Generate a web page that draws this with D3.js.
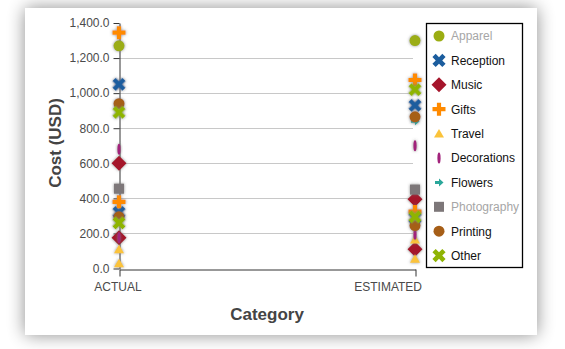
<!DOCTYPE html>
<html>
<head>
<meta charset="utf-8">
<script src="https://cdn.jsdelivr.net/npm/d3@7"></script>
<style>
  html, body { margin: 0; padding: 0; background: #fff; }
  svg { display: block; font-family: Arial, "Liberation Sans", sans-serif; }
</style>
</head>
<body>
<svg id="chart" width="565" height="349"></svg>
<script>
// Budget categories and cost values (USD) for actual vs. estimated spend
const categories = ["ACTUAL", "ESTIMATED"];
const seriesNames = ["Apparel", "Reception", "Music", "Gifts", "Travel",
  "Decorations", "Flowers", "Photography", "Printing", "Other"];
const yTicks = [0, 200, 400, 600, 800, 1000, 1200, 1400];

const apparelActual = [1270],        apparelEstimated = [1300];
const receptionActual = [1050, 320], receptionEstimated = [930, 288];
const musicActual = [600, 175],      musicEstimated = [395, 110];
const giftsActual = [1345, 380],     giftsEstimated = [1075, 325];
const travelActual = [110, 30],      travelEstimated = [165, 55];
const decorationsActual = [680, 175], decorationsEstimated = [700, 195];
const flowersActual = [],            flowersEstimated = [840];
const photographyActual = [455],     photographyEstimated = [450];
const printingActual = [940, 295],   printingEstimated = [865, 245];
const otherActual = [890, 260],      otherEstimated = [1020, 295];

const seriesValues = [
  [apparelActual, apparelEstimated],
  [receptionActual, receptionEstimated],
  [musicActual, musicEstimated],
  [giftsActual, giftsEstimated],
  [travelActual, travelEstimated],
  [decorationsActual, decorationsEstimated],
  [flowersActual, flowersEstimated],
  [photographyActual, photographyEstimated],
  [printingActual, printingEstimated],
  [otherActual, otherEstimated]
];
const hiddenInLegend = ["Apparel", "Photography"];

const colors = {
  Apparel: "#9bad12", Reception: "#1b5d9e", Music: "#a5152b", Gifts: "#ff8a00",
  Travel: "#fbc33a", Decorations: "#a2237b", Flowers: "#2aa79a",
  Photography: "#7d7779", Printing: "#a65e17", Other: "#8fb404"
};

// Marker shapes, centred on 0,0
function plusPath(L, t) {
  const a = L / 2, b = t / 2;
  return `M${-b},${-a}H${b}V${-b}H${a}V${b}H${b}V${a}H${-b}V${b}H${-a}V${-b}H${-b}Z`;
}
const shapes = {
  Apparel: "M-5.5,0a5.5,5.5 0 1,0 11,0a5.5,5.5 0 1,0 -11,0Z",
  Reception: plusPath(14, 4.6),
  Music: "M0,-7.5L7.5,0L0,7.5L-7.5,0Z",
  Gifts: plusPath(13, 4.2),
  Travel: "M0,-4.5L5,4L-5,4Z",
  Decorations: "M-1.6,0a1.6,5.5 0 1,0 3.2,0a1.6,5.5 0 1,0 -3.2,0Z",
  Flowers: "M-4,-1.5H0V-4L4.5,0L0,4V1.5H-4Z",
  Photography: "M-5,-5H5V5H-5Z",
  Printing: "M-5.5,0a5.5,5.5 0 1,0 11,0a5.5,5.5 0 1,0 -11,0Z",
  Other: plusPath(14, 4.6)
};
const rotations = { Reception: 45, Other: 45 };

const svg = d3.select("#chart");
const defs = svg.append("defs");

// Soft shadow behind the card
const cardShadow = defs.append("filter").attr("id", "cardShadow")
  .attr("x", "-20%").attr("y", "-20%").attr("width", "140%").attr("height", "140%");
cardShadow.append("feGaussianBlur").attr("in", "SourceAlpha").attr("stdDeviation", 9);
cardShadow.append("feComponentTransfer").append("feFuncA").attr("type", "linear").attr("slope", 0.45);
const cm = cardShadow.append("feMerge");
cm.append("feMergeNode");
cm.append("feMergeNode").attr("in", "SourceGraphic");

// Grey halo around plotted markers
const glow = defs.append("filter").attr("id", "glow")
  .attr("x", "-60%").attr("y", "-60%").attr("width", "220%").attr("height", "220%");
glow.append("feGaussianBlur").attr("in", "SourceAlpha").attr("stdDeviation", 1.5).attr("result", "b");
glow.append("feFlood").attr("flood-color", "#6e6e6e").attr("flood-opacity", 0.8);
glow.append("feComposite").attr("in2", "b").attr("operator", "in");
const gm = glow.append("feMerge");
gm.append("feMergeNode");
gm.append("feMergeNode").attr("in", "SourceGraphic");

svg.append("rect").attr("x", 25).attr("y", 8).attr("width", 512).attr("height", 327)
  .attr("fill", "#fff").attr("filter", "url(#cardShadow)");

const x = d3.scalePoint().domain(categories).range([119, 415]);
const y = d3.scaleLinear().domain([0, 1400]).range([268.5, 23]);

// Gridlines
svg.append("g").selectAll("line")
  .data(yTicks.filter(v => v > 0 && v < 1400))
  .join("line")
  .attr("x1", 119).attr("x2", 413)
  .attr("y1", d => Math.round(y(d)) + 0.5).attr("y2", d => Math.round(y(d)) + 0.5)
  .attr("stroke", "#c8c8c8").attr("stroke-width", 1);

// Y axis
const yAxis = svg.append("g").attr("transform", "translate(119.5,0)")
  .call(d3.axisLeft(y).tickValues(yTicks).tickFormat(d3.format(",.1f"))
    .tickSize(6).tickSizeOuter(0).tickPadding(4));
yAxis.select(".domain").attr("stroke", "#333");
yAxis.selectAll(".tick line").attr("stroke", "#333");
yAxis.selectAll("text").attr("fill", "#4a4a4a").attr("font-size", 12)
  .attr("font-family", "Arial, 'Liberation Sans', sans-serif");

// X axis
const xAxis = svg.append("g").attr("transform", `translate(0.5,${Math.round(y(0)) + 0.5})`)
  .call(d3.axisBottom(x).tickSize(7).tickSizeOuter(0).tickPadding(6));
xAxis.select(".domain").attr("stroke", "#333");
xAxis.selectAll(".tick line").attr("stroke", "#333");
xAxis.selectAll("text").attr("fill", "#4a4a4a").attr("font-size", 12)
  .attr("font-family", "Arial, 'Liberation Sans', sans-serif");
// Last category label is kept inside the plot's right edge
xAxis.selectAll(".tick text")
  .filter(d => d === categories[categories.length - 1])
  .attr("text-anchor", "end").attr("x", 6);
xAxis.selectAll(".tick text")
  .filter(d => d === categories[0])
  .attr("x", -2);

// Axis titles
svg.append("text").attr("transform", "translate(57,143) rotate(-90)")
  .attr("text-anchor", "middle").attr("dominant-baseline", "middle")
  .attr("font-size", 17).attr("font-weight", "bold").attr("fill", "#444")
  .text("Cost (USD)");
svg.append("text").attr("x", 267).attr("y", 320)
  .attr("text-anchor", "middle")
  .attr("font-size", 17).attr("font-weight", "bold").attr("fill", "#444")
  .text("Category");

// Points, series by series
const points = [];
seriesNames.forEach((name, i) => {
  categories.forEach((cat, j) => {
    seriesValues[i][j].forEach(v => points.push({ name, cat, v }));
  });
});
svg.append("g").selectAll("path")
  .data(points)
  .join("path")
  .attr("d", d => shapes[d.name])
  .attr("transform", d => `translate(${x(d.cat)},${y(d.v)}) rotate(${rotations[d.name] || 0})`)
  .attr("fill", d => colors[d.name])
  .attr("filter", "url(#glow)");

// Legend
const legendTop = 36, legendStep = 24.4;
svg.append("rect").attr("x", 426.5).attr("y", 23.5).attr("width", 96).attr("height", 244)
  .attr("fill", "#fff").attr("stroke", "#000").attr("stroke-width", 1.3);
const items = svg.append("g").selectAll("g")
  .data(seriesNames)
  .join("g")
  .attr("transform", (d, i) => `translate(439,${legendTop + i * legendStep})`);
items.append("path")
  .attr("d", d => shapes[d])
  .attr("transform", d => `rotate(${rotations[d] || 0})`)
  .attr("fill", d => colors[d]);
items.append("text")
  .attr("x", 12).attr("dy", "0.36em")
  .attr("font-size", 12)
  .attr("fill", d => hiddenInLegend.includes(d) ? "#a6a6a6" : "#111")
  .text(d => d);
</script>
</body>
</html>
